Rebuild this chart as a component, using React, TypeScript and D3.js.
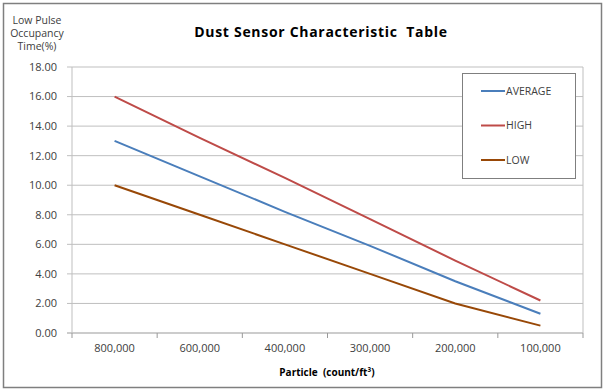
import React from "react";
import * as d3 from "d3";

const categories = ["800,000", "600,000", "400,000", "300,000", "200,000", "100,000"];
const seriesNames = ["AVERAGE", "HIGH", "LOW"];
const averageValues = [13, 10.6, 8.2, 5.9, 3.5, 1.3];
const highValues = [16, 13.2, 10.5, 7.7, 4.9, 2.2];
const lowValues = [10, 8, 6, 4, 2, 0.5];
const yTicks = [0, 2, 4, 6, 8, 10, 12, 14, 16, 18];
const colors = ["#4A7EBB", "#BE4B48", "#984807"];

const W = 612, H = 392;
const plot = { left: 72, right: 583, top: 67, bottom: 333 };
const font = "'Open Sans', 'Noto Sans', sans-serif";

export default function App() {
  const x = d3.scaleBand().domain(categories).range([plot.left, plot.right]);
  const y = d3.scaleLinear().domain([0, 18]).range([plot.bottom, plot.top]);
  const line = d3
    .line<number>()
    .x((_, i) => (x(categories[i]) as number) + x.bandwidth() / 2)
    .y((d) => y(d));
  const data = [averageValues, highValues, lowValues];
  const bounds = [...categories.map((c) => x(c) as number), plot.right];

  return (
    <svg width={W} height={H} style={{ position: "absolute", left: 0, top: 0 }} fontFamily={font}>
      <rect x={0} y={0} width={W} height={H} fill="#fff" />
      <rect x={3.5} y={3.5} width={598} height={384} fill="#fff" stroke="#7f7f7f" strokeWidth={1.5} />
      {yTicks.map((t) => (
        <g key={t}>
          <line x1={plot.left - 5} x2={plot.right} y1={y(t)} y2={y(t)} stroke={t === 0 ? "#999" : "#bfbfbf"} strokeWidth={1} />
          <text x={57} y={y(t)} dy="0.35em" textAnchor="end" fontSize={11} fill="#404040">
            {t.toFixed(2)}
          </text>
        </g>
      ))}
      <line x1={plot.left} x2={plot.left} y1={plot.top} y2={plot.bottom} stroke="#bfbfbf" />
      <line x1={plot.right} x2={plot.right} y1={plot.top} y2={plot.bottom} stroke="#bfbfbf" />
      {bounds.map((b, i) => (
        <line key={i} x1={b} x2={b} y1={plot.bottom} y2={plot.bottom + 5} stroke="#999" />
      ))}
      {categories.map((c) => (
        <text key={c} x={(x(c) as number) + x.bandwidth() / 2} y={352} textAnchor="middle" fontSize={11} fill="#404040">
          {c}
        </text>
      ))}
      {data.map((d, i) => (
        <path key={i} d={line(d) as string} fill="none" stroke={colors[i]} strokeWidth={2} />
      ))}
      <rect x={462.5} y={73.5} width={113} height={105} fill="#fff" stroke="#7f7f7f" />
      {seriesNames.map((s, i) => (
        <g key={s} transform={`translate(0, ${91 + i * 34.5})`}>
          <line x1={481} x2={505} y1={0} y2={0} stroke={colors[i]} strokeWidth={2} />
          <text x={506} y={0} dy="0.35em" fontSize={10.5} fill="#404040">
            {s}
          </text>
        </g>
      ))}
      <text x={321} y={37} textAnchor="middle" fontSize={14} fontWeight="bold" letterSpacing={0.7} fill="#000">
        Dust Sensor Characteristic{"\u00a0"} Table
      </text>
      {["Low Pulse", "Occupancy", "Time(%)"].map((t, i) => (
        <text key={t} x={37} y={20 + i * 13} dy="0.35em" textAnchor="middle" fontSize={10.5} fill="#404040">
          {t}
        </text>
      ))}
      <text x={327} y={372} dy="0.35em" textAnchor="middle" fontSize={10} fontWeight="bold" fill="#000">
        Particle{"\u00a0"} (count/ft³)
      </text>
    </svg>
  );
}
